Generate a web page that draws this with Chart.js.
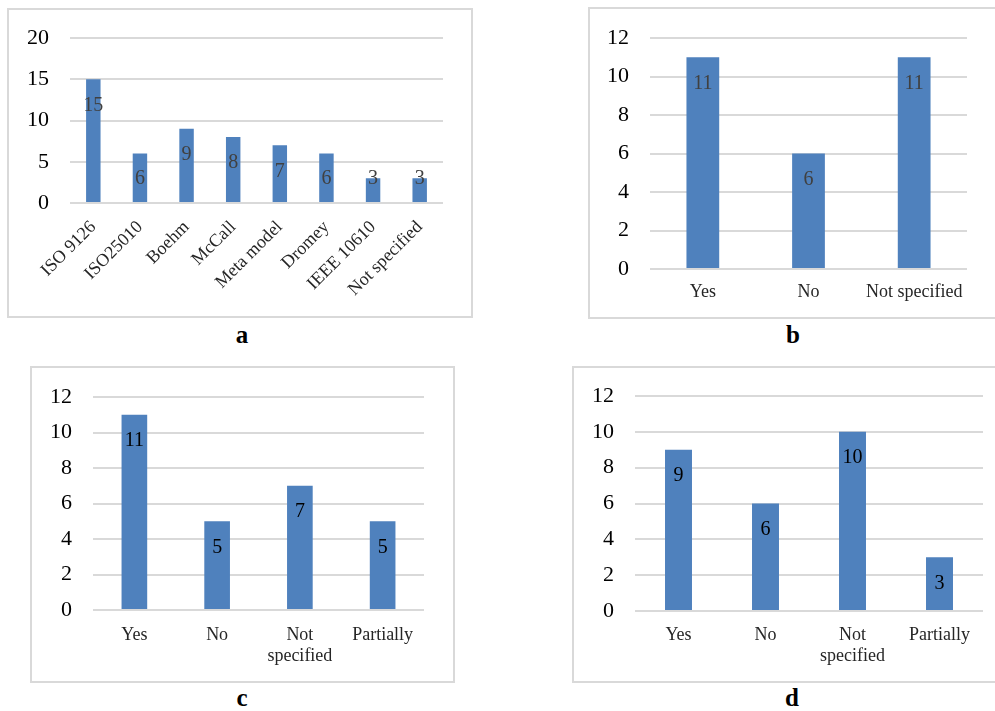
<!DOCTYPE html>
<html>
<head>
<meta charset="utf-8">
<script src="https://cdn.jsdelivr.net/npm/chart.js@4"></script>
<style>
    html, body {
        margin: 0;
        padding: 0;
        background: #ffffff;
        overflow: hidden;
        width: 995px;
        height: 711px;
    }
    .frame {
        position: absolute;
        box-sizing: border-box;
        border: 2px solid #d9d9d9;
    }
    .frame canvas {
        position: absolute;
        left: 0;
        top: 0;
    }
    .caption {
        position: absolute;
        width: 60px;
        margin-left: -30px;
        text-align: center;
        font-family: "Liberation Serif", "Times New Roman", serif;
        font-weight: bold;
        font-size: 25px;
        line-height: 25px;
        color: #000;
    }
</style>
</head>
<body>

<div class="frame" style="left:7px; top:8px; width:466px; height:310px;"><canvas id="chartA"></canvas></div>
<div class="frame" style="left:588px; top:7px; width:412px; height:312px;"><canvas id="chartB"></canvas></div>
<div class="frame" style="left:30px; top:366px; width:425px; height:317px;"><canvas id="chartC"></canvas></div>
<div class="frame" style="left:572px; top:366px; width:428px; height:317px;"><canvas id="chartD"></canvas></div>

<div class="caption" style="left:242px; top:322px;">a</div>
<div class="caption" style="left:793px; top:322px;">b</div>
<div class="caption" style="left:242px; top:685px;">c</div>
<div class="caption" style="left:792px; top:685px;">d</div>

<script>
// (a) quality models referenced
const modelNames = ["ISO 9126", "ISO25010", "Boehm", "McCall", "Meta model", "Dromey", "IEEE 10610", "Not specified"];
const modelCounts = [15, 6, 9, 8, 7, 6, 3, 3];
const modelTicks = [0, 5, 10, 15, 20];

// (b) three-way answer
const answersB = ["Yes", "No", "Not specified"];
const countsB = [11, 6, 11];

// (c) and (d) four-way answer
const answersCD = ["Yes", "No", ["Not", "specified"], "Partially"];
const countsC = [11, 5, 7, 5];
const countsD = [9, 6, 10, 3];

const answerTicks = [0, 2, 4, 6, 8, 10, 12];

const BAR_BLUE = "#4f81bd";
const GRID_GREY = "#d9d9d9";
const SERIF = "'Liberation Serif', 'Times New Roman', serif";

// Value printed inside the top of each bar
const valueLabels = {
    id: "valueLabels",
    afterDatasetsDraw(chart, args, opts) {
        const ctx = chart.ctx;
        const meta = chart.getDatasetMeta(0);
        const values = chart.data.datasets[0].data;
        ctx.save();
        ctx.font = "20px " + SERIF;
        ctx.fillStyle = opts.color || "#404040";
        ctx.textAlign = "center";
        ctx.textBaseline = "middle";
        meta.data.forEach((bar, i) => {
            // keep short bars' labels from dropping under the axis
            const y = Math.min(bar.y + 26, bar.base - 23);
            ctx.fillText(String(values[i]), bar.x, y);
        });
        ctx.restore();
    }
};

function makeChart(id, cfg) {
    const canvas = document.getElementById(id);
    canvas.width = cfg.width;
    canvas.height = cfg.height;
    canvas.style.width = cfg.width + "px";
    canvas.style.height = cfg.height + "px";

    const ticks = cfg.ticks;

    return new Chart(canvas.getContext("2d"), {
        type: "bar",
        data: {
            labels: cfg.labels,
            datasets: [{
                data: cfg.values,
                backgroundColor: BAR_BLUE,
                borderWidth: 0,
                categoryPercentage: 1,
                barPercentage: 0.31
            }]
        },
        plugins: [valueLabels],
        options: {
            responsive: false,
            animation: false,
            devicePixelRatio: 1,
            layout: {
                padding: { left: 0, top: cfg.top, right: cfg.right, bottom: 0 }
            },
            plugins: {
                legend: { display: false },
                tooltip: { enabled: false },
                valueLabels: { color: cfg.labelColor }
            },
            scales: {
                x: {
                    grid: { display: false },
                    border: { display: false },
                    ticks: {
                        color: "#262626",
                        font: { family: SERIF, size: 18, lineHeight: 1.15 },
                        padding: cfg.xPad,
                        autoSkip: false,
                        minRotation: cfg.rotation,
                        maxRotation: cfg.rotation
                    },
                    afterFit(scale) {
                        scale.height = cfg.xHeight;
                    }
                },
                y: {
                    min: ticks[0],
                    max: ticks[ticks.length - 1],
                    grid: {
                        color: GRID_GREY,
                        lineWidth: 2,
                        // invisible tick marks give the gap before the numbers
                        tickLength: 21,
                        tickColor: "rgba(0,0,0,0)"
                    },
                    border: { display: false },
                    ticks: {
                        stepSize: ticks[1] - ticks[0],
                        color: "#000000",
                        font: { family: SERIF, size: 22 },
                        padding: 0
                    },
                    afterFit(scale) {
                        scale.width = cfg.yWidth;
                    }
                }
            }
        }
    });
}

document.addEventListener("DOMContentLoaded", function () {

    makeChart("chartA", {
        width: 462, height: 306,
        labels: modelNames, values: modelCounts, ticks: modelTicks,
        top: 28, right: 28, yWidth: 61, xHeight: 113,
        rotation: 45, xPad: 6, labelColor: "#404040"
    });

    makeChart("chartB", {
        width: 408, height: 308,
        labels: answersB, values: countsB, ticks: answerTicks,
        top: 29, right: 31, yWidth: 60, xHeight: 48,
        rotation: 0, xPad: 5, labelColor: "#404040"
    });

    makeChart("chartC", {
        width: 421, height: 313,
        labels: answersCD, values: countsC, ticks: answerTicks,
        top: 29, right: 29, yWidth: 61, xHeight: 71,
        rotation: 0, xPad: 7, labelColor: "#000000"
    });

    makeChart("chartD", {
        width: 424, height: 313,
        labels: answersCD, values: countsD, ticks: answerTicks,
        top: 28, right: 15, yWidth: 61, xHeight: 70,
        rotation: 0, xPad: 6, labelColor: "#000000"
    });

});
</script>
</body>
</html>
